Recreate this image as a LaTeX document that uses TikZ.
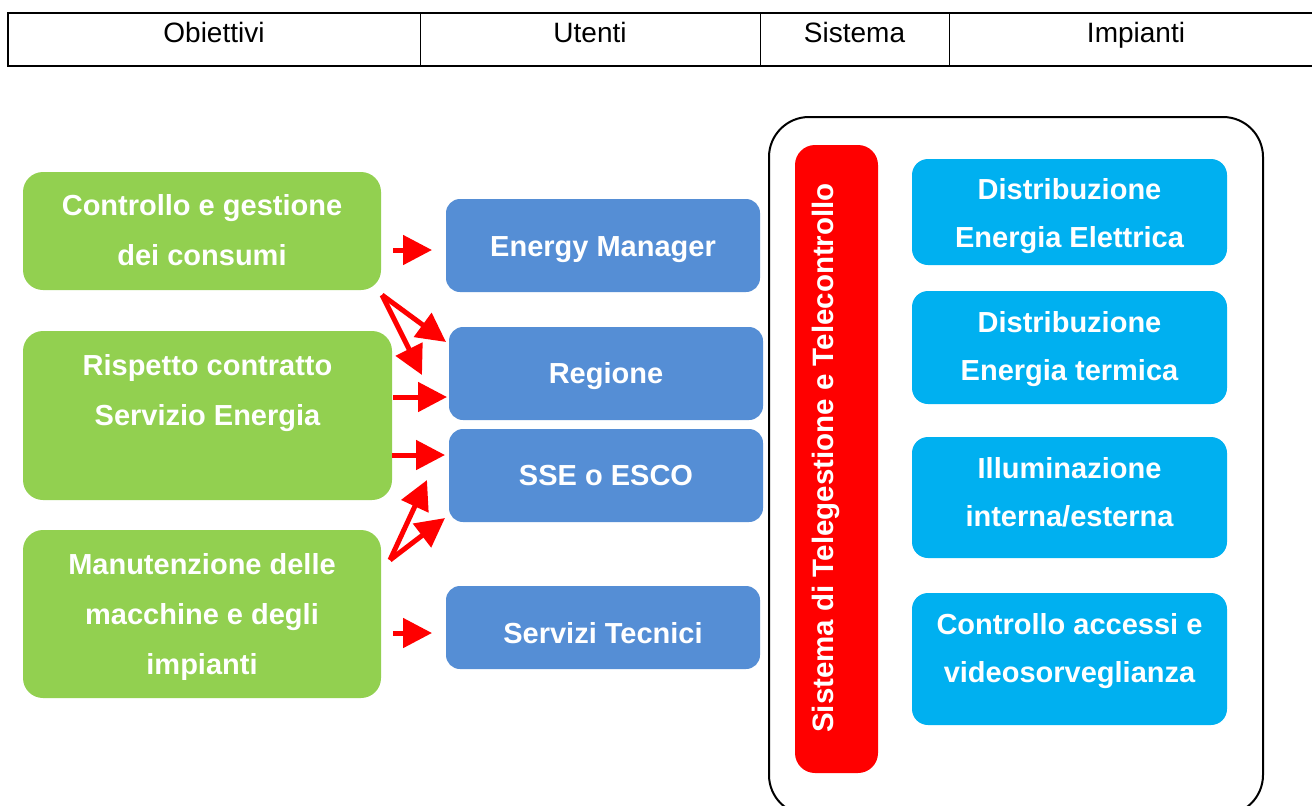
\documentclass[tikz,border=0pt]{standalone}
\usepackage{fontspec}
\setmainfont{Liberation Sans}
\usetikzlibrary{arrows.meta}
\definecolor{gr}{HTML}{92D050}
\definecolor{bl}{HTML}{558ED5}
\definecolor{cy}{HTML}{00B0F0}
\definecolor{rd}{HTML}{FF0000}
\tikzset{
  gbox/.style={fill=gr, rounded corners=10pt, inner sep=0pt},
  bbox/.style={fill=bl, rounded corners=7pt, inner sep=0pt, minimum width=157pt},
  cbox/.style={fill=cy, rounded corners=8pt, inner sep=0pt, minimum width=157.5pt},
  gtxt/.style={text=white, inner sep=0pt, align=center, font=\bfseries\fontsize{14.5}{25}\selectfont},
  ctxt/.style={text=white, inner sep=0pt, align=center, font=\bfseries\fontsize{14.5}{24}\selectfont},
  hdr/.style={anchor=base, font=\fontsize{14}{16}\selectfont},
  arr/.style={draw=rd, line width=2.5pt, -{Triangle[length=14.5pt,width=14.5pt]}, rd},
}
\begin{document}
\begin{tikzpicture}[x=0.5pt,y=-0.5pt]
\useasboundingbox (0,0) rectangle (1312,805);
\fill[white] (0,0) rectangle (1312,805);
% header table
\draw[line width=1pt] (8,13) rectangle (1340,66);
\draw[line width=0.5pt] (420,13) -- (420,66) (760,13) -- (760,66) (949,13) -- (949,66);
\node[hdr] (h1) at (214,42) {Obiettivi};
\node[hdr] (h2) at (590,42) {Utenti};
\node[hdr] (h3) at (854.5,42) {Sistema};
\node[hdr] (h4) at (1136,42) {Impianti};
% outer system frame
\draw[line width=1pt, rounded corners=20pt] (769,117) rectangle (1263,815);
% red bar
\node[fill=rd, rounded corners=10pt, minimum width=41.5pt, minimum height=314pt, inner sep=0pt] (bar) at (836.5,459) {};
\node[rotate=90, text=white, inner sep=0pt, font=\bfseries\fontsize{14.75}{17}\selectfont] (bartxt) at (826,458) {Sistema di Telegestione e Telecontrollo};
% green boxes
\node[gbox, minimum width=179pt, minimum height=59pt] (g1) at (202,231) {};
\node[gbox, minimum width=184.5pt, minimum height=84.5pt] (g2) at (207.5,415.5) {};
\node[gbox, minimum width=179pt, minimum height=84pt] (g3) at (202,614) {};
\node[gtxt] (g1t) at (202,230) {Controllo e gestione\\dei consumi};
\node[gtxt] (g2t) at (207.5,393) {Rispetto contratto\\Servizio Energia};
\node[gtxt] (g3t) at (202,617) {Manutenzione delle\\macchine e degli\\impianti};
% blue boxes
\node[bbox, minimum height=46.5pt] (em) at (603,245.5) {};
\node[bbox, minimum height=46.5pt] (reg) at (606,373.5) {};
\node[bbox, minimum height=46.5pt] (sse) at (606,475.5) {};
\node[bbox, minimum height=41.5pt] (st) at (603,627.5) {};
\node[gtxt] (emt) at (603,249.5) {Energy Manager};
\node[gtxt] (regt) at (606,376.5) {Regione};
\node[gtxt] (sset) at (606,475.5) {SSE o ESCO};
\node[gtxt] (stt) at (603,633) {Servizi Tecnici};
% cyan boxes
\node[cbox, minimum height=53pt] (c1) at (1069.5,212) {};
\node[cbox, minimum height=56.5pt] (c2) at (1069.5,347.5) {};
\node[cbox, minimum height=60.5pt] (c3) at (1069.5,497.5) {};
\node[cbox, minimum height=66pt] (c4) at (1069.5,659) {};
\node[ctxt] (c1t) at (1069.5,216) {Distribuzione\\Energia Elettrica};
\node[ctxt] (c2t) at (1069.5,349) {Distribuzione\\Energia termica};
\node[ctxt] (c3t) at (1069.5,492) {Illuminazione\\interna/esterna};
\node[ctxt] (c4t) at (1069.5,651) {Controllo accessi e\\videosorveglianza};
% arrow end points
\coordinate (a1s) at (393,250); \coordinate (a1e) at (432,250);
\coordinate (a2s) at (382,295); \coordinate (a2e) at (446,342);
\coordinate (a3e) at (422,375);
\coordinate (a4s) at (393,397); \coordinate (a4e) at (447,397);
\coordinate (a5s) at (392,455); \coordinate (a5e) at (445,455);
\coordinate (a6s) at (390,560); \coordinate (a6e) at (427,480);
\coordinate (a7e) at (445,518);
\coordinate (a8s) at (393,633); \coordinate (a8e) at (432,633);
\draw[arr] (a1s) -- (a1e);
\draw[arr] (a2s) -- (a2e);
\draw[arr] (a2s) -- (a3e);
\draw[arr] (a4s) -- (a4e);
\draw[arr] (a5s) -- (a5e);
\draw[arr] (a6s) -- (a6e);
\draw[arr] (a6s) -- (a7e);
\draw[arr] (a8s) -- (a8e);
\end{tikzpicture}
\end{document}
